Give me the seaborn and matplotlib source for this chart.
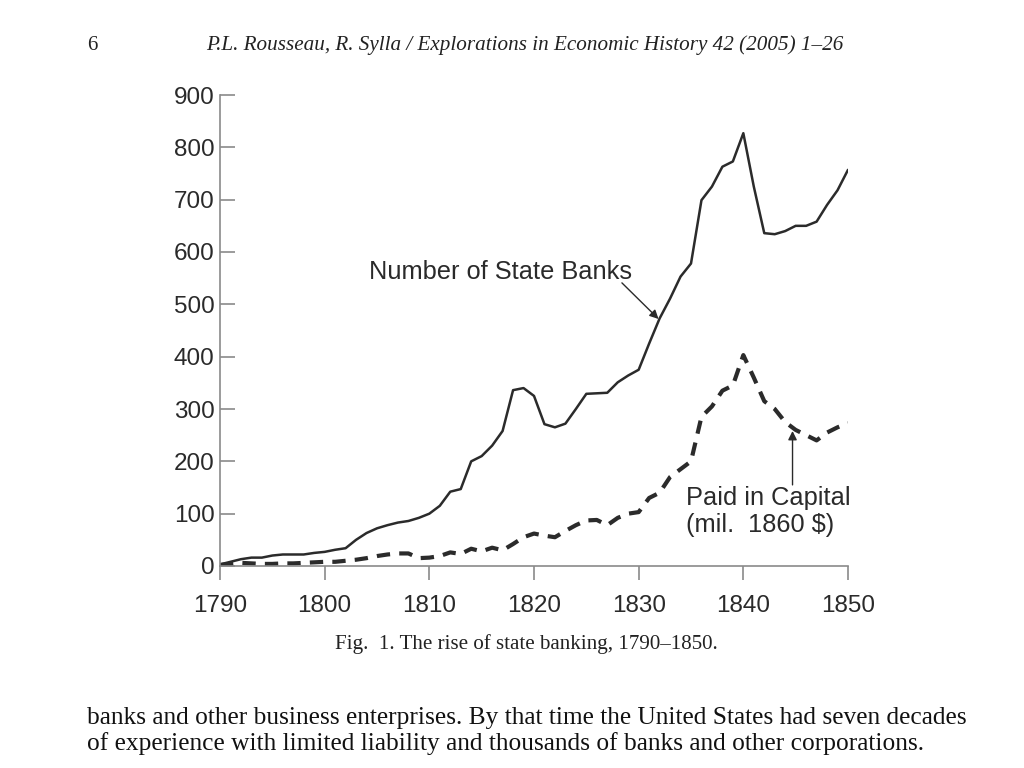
import matplotlib
matplotlib.use("Agg")
import matplotlib.pyplot as plt
import seaborn as sns
import pandas as pd

years = list(range(1790, 1851))
state_banks = [3, 8, 13, 16, 16, 20, 22, 22, 22, 25,
               27, 31, 34, 50, 63, 72, 78, 83, 86, 92,
               100, 115, 142, 147, 200, 210, 230, 258, 336, 340,
               325, 271, 265, 272, 300, 329, 330, 331, 351, 364,
               375, 425, 473, 511, 553, 578, 699, 725, 763, 773,
               827, 725, 636, 634, 640, 650, 650, 658, 690, 718,
               757]
paid_capital = [2, 4, 6, 5, 4, 4, 5, 5, 6, 7,
                8, 8, 10, 12, 15, 19, 22, 24, 24, 15,
                16, 19, 26, 23, 33, 28, 35, 30, 42, 55,
                62, 58, 55, 67, 78, 87, 88, 78, 92, 100,
                103, 130, 140, 170, 185, 200, 285, 305, 335, 345,
                403, 360, 315, 300, 275, 260, 250, 240, 255, 265,
                273]
x_ticks = [1790, 1800, 1810, 1820, 1830, 1840, 1850]
y_ticks = [0, 100, 200, 300, 400, 500, 600, 700, 800, 900]

df = pd.DataFrame({"year": years, "banks": state_banks, "capital": paid_capital})

sns.set_style("white")
plt.rcParams["font.family"] = ["Liberation Sans", "DejaVu Sans"]

fig = plt.figure(figsize=(10.24, 7.68), dpi=100)
ax = fig.add_axes([220/1024, (768-566)/768, (848-220)/1024, (566-95)/768])

line_col = "#2b2b2b"
sns.lineplot(data=df, x="year", y="banks", ax=ax, color=line_col, linewidth=1.8)
sns.lineplot(data=df, x="year", y="capital", ax=ax, color=line_col, linewidth=3.0,
             linestyle=(0, (3.2, 2.2)))

ax.set_xlim(1790, 1850)
ax.set_ylim(0, 900)
ax.set_xticks(x_ticks)
ax.set_yticks(y_ticks)
ax.set_xlabel("")
ax.set_ylabel("")
for s in ["top", "right"]:
    ax.spines[s].set_visible(False)
for s in ["left", "bottom"]:
    ax.spines[s].set_color("#8a8a8a")
    ax.spines[s].set_linewidth(1.2)
ax.tick_params(axis="y", left=True, direction="in", length=11, width=1.2, color="#8a8a8a",
               labelsize=17.5, labelcolor="#2a2a2a", pad=4)
ax.tick_params(axis="x", bottom=True, direction="out", length=10, width=1.2, color="#8a8a8a",
               labelsize=17.5, labelcolor="#2a2a2a", pad=11)

txt_col = "#2a2a2a"
ax.text(1829.4, 539, "Number of State Banks", fontsize=18.3, color=txt_col,
        ha="right", va="bottom")
ax.annotate("", xy=(1831.9, 472), xytext=(1828.4, 541),
            arrowprops=dict(arrowstyle="-|>", color=txt_col, lw=1.0,
                            mutation_scale=13, shrinkA=0, shrinkB=0))
ax.annotate("", xy=(1844.7, 258), xytext=(1844.7, 155),
            arrowprops=dict(arrowstyle="-|>", color=txt_col, lw=1.0,
                            mutation_scale=13, shrinkA=0, shrinkB=0))
ax.text(1834.5, 152, "Paid in Capital\n(mil.  1860 $)", fontsize=18.3, color=txt_col,
        ha="left", va="top", linespacing=1.12)

serif = ["Liberation Serif", "DejaVu Serif"]
fig.text(87/1024, 1 - 45/768, "6", family=serif, fontsize=15, color="#222222",
         va="center", ha="left")
fig.text(525/1024, 1 - 45/768,
         "P.L. Rousseau, R. Sylla / Explorations in Economic History 42 (2005) 1–26",
         family=serif, style="italic", fontsize=15.2, color="#222222",
         va="center", ha="center")
fig.text(526/1024, 1 - 644/768, "Fig.  1. The rise of state banking, 1790–1850.",
         family=serif, fontsize=15.1, color="#222222", va="center", ha="center")
fig.text(87/1024, 1 - 718/768,
         "banks and other business enterprises. By that time the United States had seven decades",
         family=serif, fontsize=18.3, color="#111111", va="center", ha="left")
fig.text(87/1024, 1 - 744/768,
         "of experience with limited liability and thousands of banks and other corporations.",
         family=serif, fontsize=18.3, color="#111111", va="center", ha="left")

fig.savefig("out.png", dpi=100, facecolor="white")
